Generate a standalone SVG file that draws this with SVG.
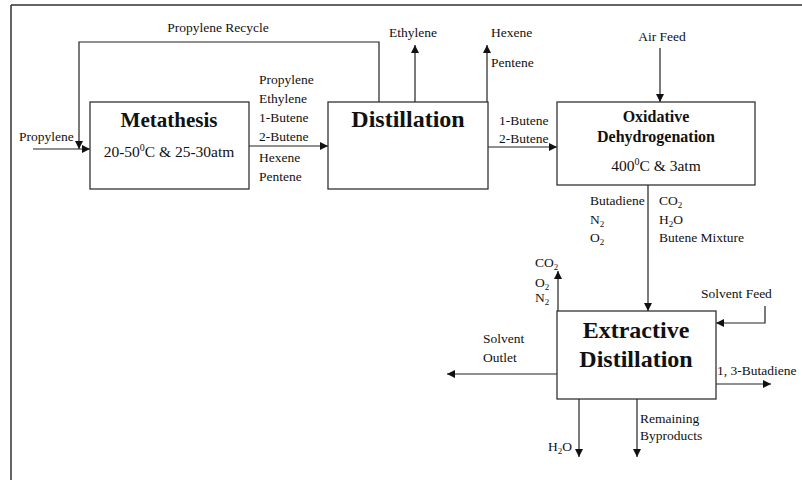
<svg xmlns="http://www.w3.org/2000/svg" width="802" height="480" viewBox="0 0 802 480">
<defs>
<marker id="ah" markerUnits="userSpaceOnUse" markerWidth="9" markerHeight="8" refX="8" refY="4" orient="auto">
<path d="M0,0 L8,4 L0,8 Z" fill="#111"/>
</marker>
<style>
.box{fill:#fff;stroke:#333;stroke-width:1.3}
.ln{fill:none;stroke:#222;stroke-width:1.2}
.ar{fill:none;stroke:#222;stroke-width:1.2;marker-end:url(#ah)}
.t{font-family:"Liberation Serif","Times New Roman",serif;font-size:13.5px;fill:#111}
.h{font-family:"Liberation Serif","Times New Roman",serif;font-weight:bold;fill:#111;text-anchor:middle}
.c{font-family:"Liberation Serif","Times New Roman",serif;font-size:15.5px;fill:#111;text-anchor:middle}
</style>
</defs>
<rect width="802" height="480" fill="#fff"/>
<g id="frame">
<path d="M11,5 H802 M11,5 V480" fill="none" stroke="#333" stroke-width="1.5"/>
</g>
<g id="connectors">
<path class="ar" d="M379,102 V42 H79 V149"/>
<path class="ar" d="M33,149 H90"/>
<path class="ar" d="M249,146 H328"/>
<path class="ar" d="M415,102 V45"/>
<path class="ar" d="M487,102 V45"/>
<path class="ar" d="M488,147 H557"/>
<path class="ar" d="M660,48 V102"/>
<path class="ar" d="M648,185 V311"/>
<path class="ar" d="M558,311 V271"/>
<path class="ar" d="M765,306 V323 H716"/>
<path class="ar" d="M557,374 H447"/>
<path class="ar" d="M716,384 H771"/>
<path class="ar" d="M579,399 V457"/>
<path class="ar" d="M637,399 V457"/>
</g>
<g id="metathesis">
<rect class="box" x="90" y="102" width="159" height="87"/>
<text class="h" x="169" y="127" font-size="21">Metathesis</text>
<text class="c" x="169" y="157">20-50<tspan font-size="10" dy="-6">0</tspan><tspan dy="6">C &amp; 25-30atm</tspan></text>
</g>
<g id="distillation">
<rect class="box" x="328" y="102" width="160" height="87"/>
<text class="h" x="408" y="127" font-size="24">Distillation</text>
</g>
<g id="oxidative">
<rect class="box" x="557" y="102" width="198" height="83"/>
<text class="h" x="656" y="122" font-size="16">Oxidative</text>
<text class="h" x="656" y="142" font-size="16">Dehydrogenation</text>
<text class="c" x="656" y="171">400<tspan font-size="10" dy="-6">0</tspan><tspan dy="6">C &amp; 3atm</tspan></text>
</g>
<g id="extractive">
<rect class="box" x="557" y="311" width="159" height="88"/>
<text class="h" x="636" y="338" font-size="24">Extractive</text>
<text class="h" x="636" y="367" font-size="24">Distillation</text>
</g>
<g id="labels">
<text class="t" x="218" y="32" text-anchor="middle">Propylene Recycle</text>
<text class="t" x="19" y="141">Propylene</text>
<text class="t" x="259" y="84">Propylene</text>
<text class="t" x="259" y="103">Ethylene</text>
<text class="t" x="259" y="122">1-Butene</text>
<text class="t" x="259" y="141">2-Butene</text>
<text class="t" x="259" y="162">Hexene</text>
<text class="t" x="259" y="181">Pentene</text>
<text class="t" x="413" y="37" text-anchor="middle">Ethylene</text>
<text class="t" x="491" y="37">Hexene</text>
<text class="t" x="491" y="67">Pentene</text>
<text class="t" x="499" y="125">1-Butene</text>
<text class="t" x="499" y="143">2-Butene</text>
<text class="t" x="662" y="41" text-anchor="middle">Air Feed</text>
<text class="t" x="590" y="205">Butadiene</text>
<text class="t" x="590" y="224">N<tspan font-size="9" dy="3">2</tspan></text>
<text class="t" x="590" y="242">O<tspan font-size="9" dy="3">2</tspan></text>
<text class="t" x="659" y="205">CO<tspan font-size="9" dy="3">2</tspan></text>
<text class="t" x="659" y="224">H<tspan font-size="9" dy="3">2</tspan><tspan dy="-3">O</tspan></text>
<text class="t" x="659" y="242">Butene Mixture</text>
<text class="t" x="535" y="267">CO<tspan font-size="9" dy="3">2</tspan></text>
<text class="t" x="535" y="287">O<tspan font-size="9" dy="3">2</tspan></text>
<text class="t" x="535" y="302">N<tspan font-size="9" dy="3">2</tspan></text>
<text class="t" x="701" y="298">Solvent Feed</text>
<text class="t" x="483" y="343">Solvent</text>
<text class="t" x="483" y="362">Outlet</text>
<text class="t" x="717" y="375">1, 3-Butadiene</text>
<text class="t" x="548" y="451">H<tspan font-size="9" dy="3">2</tspan><tspan dy="-3">O</tspan></text>
<text class="t" x="640" y="423">Remaining</text>
<text class="t" x="640" y="440">Byproducts</text>
</g>
</svg>
